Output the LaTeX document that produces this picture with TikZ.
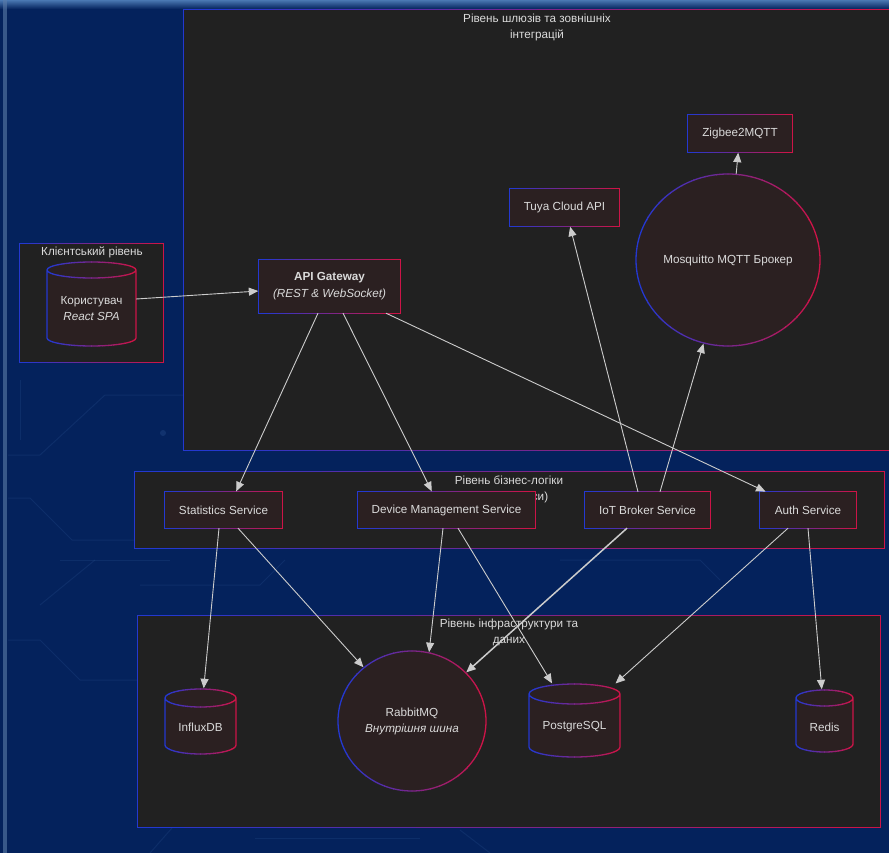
\documentclass[tikz,border=0pt]{standalone}
\usepackage{fontspec}
\setmainfont{Liberation Sans}
\usetikzlibrary{arrows.meta,shapes.geometric,calc}
\definecolor{bgc}{HTML}{04225C}
\definecolor{bgtop}{HTML}{4A78B2}
\definecolor{strip}{HTML}{5C7CA8}
\definecolor{cont}{HTML}{212121}
\definecolor{nodefill}{HTML}{2B2021}
\definecolor{gblue}{HTML}{2438D0}
\definecolor{gred}{HTML}{CC1448}
\definecolor{txt}{HTML}{DADADA}
\definecolor{arrowc}{HTML}{CCCCCC}
\definecolor{circ}{HTML}{2A5290}

% gradient (blue -> red, left to right) stroke of a path
\newcommand\gradborder[4][1.2pt]{%
  \foreach \gi in {0,...,15}{%
    \pgfmathsetmacro\gpct{100*\gi/15}%
    \pgfmathsetmacro\gxa{(#2)+((#3)-(#2))*\gi/16-(\gi==0)*5-0.3}%
    \pgfmathsetmacro\gxb{(#2)+((#3)-(#2))*(\gi+1)/16+(\gi==15)*5+0.3}%
    \begin{scope}
      \clip (\gxa,-50) rectangle (\gxb,950);
      \draw[line width=#1, draw=gred!\gpct!gblue] #4;
    \end{scope}%
  }%
}
% cylinder: cx, top, rx, ry, h
\newcommand\cylshape[5]{%
  \fill[nodefill] (#1-#3,#2+#4) -- (#1-#3,#2+#4+#5)
     arc[start angle=180,end angle=0,x radius=#3,y radius=#4]
     -- (#1+#3,#2+#4)
     arc[start angle=0,end angle=-180,x radius=#3,y radius=#4] -- cycle;
  \gradborder[1.3pt]{#1-#3}{#1+#3}{(#1,#2+#4) ellipse[x radius=#3,y radius=#4]
     (#1-#3,#2+#4) -- (#1-#3,#2+#4+#5)
     arc[start angle=180,end angle=0,x radius=#3,y radius=#4] -- (#1+#3,#2+#4)}%
}

\begin{document}
\begin{tikzpicture}[x=1pt,y=-1pt,
  every node/.style={font=\fontsize{11.7}{16}\selectfont, text=txt},
  contn/.style={rectangle, fill=cont, draw=none, inner sep=0pt},
  boxn/.style={rectangle, fill=nodefill, draw=none, inner sep=0pt, align=center},
  elln/.style={ellipse, fill=nodefill, draw=none, inner sep=0pt, align=center},
  cylb/.style={rectangle, draw=none, fill=none, inner sep=0pt},
  lbl/.style={align=center, inner sep=0pt},
  ttl/.style={align=center, inner sep=0pt},
  conn/.style={draw=arrowc, line width=0.9pt, -{Triangle[length=9.5pt,width=8pt]}, shorten >=0.5pt},
  circuit/.style={draw=circ, line width=1pt, opacity=0.25}
]
\useasboundingbox (0,0) rectangle (889,853);
\clip (0,0) rectangle (889,853);

% ---------- background ----------
\fill[bgc] (0,0) rectangle (889,853);
\shade[top color=bgtop, bottom color=bgc] (0,0) rectangle (889,9);
\fill[strip, opacity=0.6] (3,0) rectangle (7,853);
\draw[circuit] (8,455) -- (40,455) -- (105,395) -- (184,395);
\draw[circuit] (8,498) -- (30,498) -- (72,540) -- (135,540);
\draw[circuit] (60,560) -- (170,560);
\draw[circuit] (40,605) -- (95,560);
\draw[circuit] (8,640) -- (40,640) -- (80,680) -- (138,680);
\draw[circuit] (150,853) -- (172,828);
\draw[circuit] (255,838) -- (420,838);
\draw[circuit] (460,830) -- (490,853);
\draw[circuit] (140,585) -- (260,585) -- (285,560);
\draw[circuit] (560,560) -- (700,560) -- (720,580);
\draw[circuit] (20,380) -- (20,440);
\fill[circ, opacity=0.35] (163,433) circle (3);

% ---------- containers ----------
\node[contn, minimum width=707pt, minimum height=440pt] (cgw) at (537.5,230) {};
\gradborder{184}{891}{(cgw.south west) rectangle (cgw.north east)}
\node[contn, minimum width=143pt, minimum height=118pt] (ccl) at (91.5,303) {};
\gradborder{20}{163}{(ccl.south west) rectangle (ccl.north east)}
\node[contn, minimum width=749pt, minimum height=76pt] (cbl) at (509.5,510) {};
\gradborder{135}{884}{(cbl.south west) rectangle (cbl.north east)}
\node[contn, minimum width=742pt, minimum height=211pt] (cin) at (509,721.5) {};
\gradborder{138}{880}{(cin.south west) rectangle (cin.north east)}

% ---------- container titles ----------
\node[ttl] (tgw) at (537,27) {Рівень шлюзів та зовнішніх\\інтеграцій};
\node[ttl] (tcl) at (92,252) {Клієнтський рівень};
\node[ttl] (tbl) at (509,489) {Рівень бізнес-логіки\\(Мікросервіси)};
\node[ttl] (tin) at (509,632) {Рівень інфраструктури та\\даних};

% ---------- cylinders ----------
\cylshape{91.5}{262}{44.5}{8}{68}
\node[cylb, minimum width=89pt, minimum height=84pt,
  label={[lbl, yshift=-4.5pt]center:{Користувач\\\textit{React SPA}}}] (user) at (91.5,304) {};
\cylshape{200.5}{689}{35.5}{9}{47}
\node[cylb, minimum width=71pt, minimum height=65pt,
  label={[lbl, yshift=-5.5pt]center:{InfluxDB}}] (influx) at (200.5,721.5) {};
\cylshape{574.5}{684}{45.5}{10}{53}
\node[cylb, minimum width=91pt, minimum height=73pt,
  label={[lbl, yshift=-6.5pt]center:{PostgreSQL}}] (pg) at (574.5,720.5) {};
\cylshape{824.5}{690}{28.5}{8}{46}
\node[cylb, minimum width=57pt, minimum height=62pt,
  label={[lbl, yshift=-6pt]center:{Redis}}] (redis) at (824.5,721) {};

% ---------- boxes ----------
\node[boxn, minimum width=141pt, minimum height=53pt, font=\fontsize{11.7}{17}\selectfont] (api) at (329.5,286.5) {\textbf{API Gateway}\\\textit{(REST \& WebSocket)}};
\gradborder[1.3pt]{259}{400}{(api.south west) rectangle (api.north east)}
\node[boxn, minimum width=104pt, minimum height=37pt] (zig) at (740,133.5) {Zigbee2MQTT};
\gradborder[1.3pt]{688}{792}{(zig.south west) rectangle (zig.north east)}
\node[boxn, minimum width=109pt, minimum height=37pt] (tuya) at (564.5,207.5) {Tuya Cloud API};
\gradborder[1.3pt]{510}{619}{(tuya.south west) rectangle (tuya.north east)}
\node[elln, minimum width=184pt, minimum height=172pt] (mosq) at (728,260) {Mosquitto MQTT Брокер};
\gradborder[1.3pt]{636}{820}{(mosq.center) ellipse[x radius=92,y radius=86]}

\node[boxn, minimum width=117pt, minimum height=36pt] (stat) at (223.5,510) {Statistics Service};
\gradborder[1.3pt]{165}{282}{(stat.south west) rectangle (stat.north east)}
\node[boxn, minimum width=177pt, minimum height=36pt] (dev) at (446.5,510) {Device Management Service};
\gradborder[1.3pt]{358}{535}{(dev.south west) rectangle (dev.north east)}
\node[boxn, minimum width=125pt, minimum height=36pt] (iot) at (647.5,510) {IoT Broker Service};
\gradborder[1.3pt]{585}{710}{(iot.south west) rectangle (iot.north east)}
\node[boxn, minimum width=96pt, minimum height=36pt] (auth) at (808,510) {Auth Service};
\gradborder[1.3pt]{760}{856}{(auth.south west) rectangle (auth.north east)}

\node[elln, minimum width=148pt, minimum height=140pt] (rabbit) at (412,721) {RabbitMQ\\\textit{Внутрішня шина}};
\gradborder[1.3pt]{338}{486}{(rabbit.center) ellipse[x radius=74,y radius=70]}

% ---------- connectors ----------
\draw[conn] ([yshift=5pt]user.east) -- ([yshift=-4.5pt]api.west);
\draw[conn] ([xshift=-11.5pt]api.south) -- ([xshift=12.5pt]stat.north);
\draw[conn] ([xshift=13.5pt]api.south) -- ([xshift=-14.5pt]dev.north);
\draw[conn] ([xshift=56.5pt]api.south) -- ([xshift=-42pt]auth.north);
\draw[conn] ([xshift=-9.5pt]iot.north) -- ([xshift=5.5pt]tuya.south);
\draw[conn] ([xshift=12.5pt]iot.north) -- (mosq);
\draw[conn] (mosq) -- (zig);
\draw[conn] ([xshift=-4.5pt]stat.south) -- (influx);
\draw[conn] ([xshift=14.5pt]stat.south) -- (rabbit);
\draw[conn] ([xshift=-3.5pt]dev.south) -- (rabbit.76);
\draw[conn] ([xshift=11.5pt]dev.south) -- (pg);
\draw[conn, line width=1.5pt] ([xshift=-20.5pt]iot.south) -- (rabbit);
\draw[conn] ([xshift=-20pt]auth.south) -- (pg);
\draw[conn] (auth.south) -- (redis);
\end{tikzpicture}
\end{document}
